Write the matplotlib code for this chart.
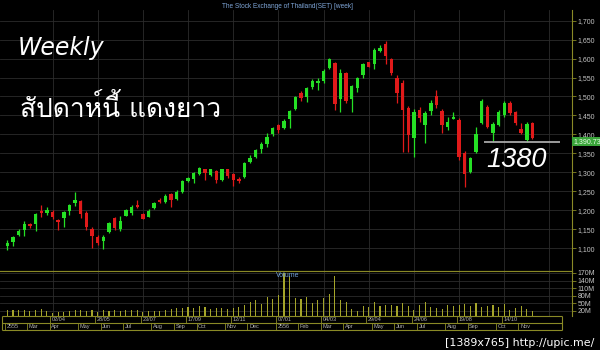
import matplotlib
matplotlib.use('Agg')
import matplotlib.pyplot as plt
import matplotlib.transforms as mtrans
from matplotlib import font_manager
from matplotlib.ft2font import FT2Font

# weekly SET index, Feb 2012 - Nov 2013
opens = [1105, 1115, 1134, 1148, 1163, 1163, 1198, 1193, 1196, 1175,
         1180, 1197, 1218, 1223, 1193, 1151, 1130, 1119, 1143, 1179,
         1150, 1185, 1192, 1214, 1189, 1183, 1205, 1228, 1221, 1242,
         1229, 1249, 1277, 1282, 1295, 1309, 1293, 1303, 1280, 1309,
         1295, 1282, 1287, 1328, 1341, 1361, 1374, 1400, 1425, 1416,
         1441, 1466, 1510, 1499, 1524, 1536, 1541, 1574, 1589, 1493,
         1563, 1493, 1522, 1557, 1590, 1587, 1621, 1638, 1598, 1550,
         1535, 1469, 1390, 1464, 1425, 1462, 1501, 1462, 1419, 1441,
         1438, 1350, 1300, 1354, 1431, 1473, 1403, 1425, 1451, 1484,
         1458, 1413, 1385, 1430]
highs = [1121, 1133, 1150, 1171, 1167, 1193, 1215, 1208, 1200, 1177,
         1197, 1217, 1249, 1227, 1198, 1156, 1135, 1135, 1170, 1183,
         1185, 1203, 1214, 1227, 1192, 1202, 1222, 1233, 1242, 1245,
         1253, 1280, 1288, 1301, 1315, 1310, 1310, 1306, 1310, 1310,
         1297, 1288, 1328, 1346, 1361, 1381, 1403, 1420, 1427, 1440,
         1464, 1501, 1514, 1526, 1545, 1550, 1572, 1601, 1592, 1572,
         1565, 1530, 1552, 1588, 1592, 1627, 1636, 1646, 1601, 1558,
         1543, 1474, 1468, 1472, 1462, 1490, 1518, 1468, 1445, 1458,
         1442, 1356, 1341, 1420, 1493, 1477, 1433, 1464, 1489, 1488,
         1462, 1430, 1434, 1432]
lows = [1095, 1105, 1131, 1133, 1152, 1146, 1181, 1188, 1178, 1148,
        1157, 1187, 1210, 1180, 1148, 1100, 1108, 1097, 1139, 1148,
        1144, 1184, 1188, 1205, 1176, 1181, 1202, 1218, 1218, 1208,
        1227, 1246, 1275, 1271, 1293, 1280, 1290, 1272, 1277, 1284,
        1264, 1271, 1284, 1324, 1339, 1350, 1367, 1396, 1403, 1413,
        1418, 1464, 1489, 1486, 1521, 1517, 1535, 1572, 1464, 1460,
        1484, 1460, 1513, 1548, 1577, 1572, 1618, 1587, 1557, 1483,
        1354, 1354, 1341, 1434, 1376, 1452, 1470, 1403, 1412, 1440,
        1332, 1262, 1297, 1350, 1427, 1416, 1381, 1421, 1447, 1452,
        1424, 1400, 1380, 1389]
closes = [1114, 1130, 1146, 1164, 1158, 1189, 1192, 1200, 1181, 1170,
          1194, 1213, 1227, 1190, 1155, 1132, 1114, 1128, 1167, 1152,
          1172, 1200, 1209, 1208, 1177, 1199, 1220, 1222, 1238, 1227,
          1247, 1277, 1286, 1299, 1311, 1297, 1308, 1281, 1308, 1290,
          1280, 1277, 1325, 1339, 1359, 1375, 1392, 1418, 1412, 1436,
          1463, 1499, 1497, 1522, 1541, 1541, 1568, 1598, 1480, 1563,
          1489, 1528, 1548, 1585, 1579, 1623, 1629, 1607, 1561, 1510,
          1464, 1398, 1460, 1444, 1456, 1482, 1477, 1425, 1433, 1445,
          1341, 1296, 1337, 1400, 1488, 1420, 1427, 1458, 1484, 1456,
          1429, 1403, 1427, 1390.73]
volumes = [22, 25, 24, 22, 20, 24, 26, 18, 12, 14,
           16, 20, 22, 24, 20, 25, 16, 22, 20, 24,
           18, 22, 25, 22, 16, 18, 18, 20, 22, 28,
           30, 32, 36, 30, 40, 34, 26, 32, 30, 28,
           30, 34, 45, 55, 62, 48, 75, 68, 82, 168,
           160, 72, 68, 75, 50, 62, 70, 88, 160, 62,
           55, 28, 20, 40, 35, 55, 38, 42, 45, 40,
           52, 38, 25, 45, 55, 35, 30, 28, 45, 40,
           42, 48, 40, 52, 35, 40, 45, 35, 48, 25,
           32, 38, 26, 18]

date_ticks = [8, 16, 24, 32, 40, 48, 56, 64, 72, 80, 88]
date_labels = ['02/04', '28/05', '23/07', '17/09', '12/11', '07/01',
               '04/03', '29/04', '24/06', '19/08', '14/10']
month_ticks = [0, 4, 8, 13, 17, 21, 26, 30, 34, 39, 43,
               48, 52, 56, 60, 65, 69, 73, 78, 82, 87, 91]
month_labels = ['2555', 'Mar', 'Apr', 'May', 'Jun', 'Jul', 'Aug', 'Sep',
                'Oct', 'Nov', 'Dec', '2556', 'Feb', 'Mar', 'Apr', 'May',
                'Jun', 'Jul', 'Aug', 'Sep', 'Oct', 'Nov']
price_ticks = list(range(1100, 1701, 50))
vol_ticks = [20, 50, 80, 110, 140, 170]
last_price = 1390.73
support = 1380

plt.rcParams['font.family'] = ['Liberation Sans', 'DejaVu Sans']


def thai_font():
    # pick any installed font that has Thai glyphs
    for f in font_manager.fontManager.ttflist:
        try:
            if 0x0E2A in FT2Font(f.fname).get_charmap():
                return f.name
        except Exception:
            pass
    return 'DejaVu Sans'


W, H = 600, 350
olive = '#8a8a26'
grid_c = '#2c2c2c'
lab_c = '#c4c4c4'
up_c, dn_c = '#25e025', '#e01a1a'
XL = (-1.3, 100.0)

fig = plt.figure(figsize=(6, 3.5), dpi=100, facecolor='black')


def box(x0, y0, x1, y1):
    a = fig.add_axes([x0 / W, 1 - y1 / H, (x1 - x0) / W, (y1 - y0) / H])
    a.set_facecolor('black')
    a.set_xlim(*XL)
    return a


# price panel
ax = box(0, 10, 572, 271)
ax.set_ylim(1039.6, 1728.2)
idx = list(range(len(closes)))
cols = [up_c if c >= o else dn_c for o, c in zip(opens, closes)]
ax.vlines(idx, lows, highs, colors=cols, lw=0.9)
bottoms = [min(o, c) for o, c in zip(opens, closes)]
heights = [max(abs(c - o), 2.5) for o, c in zip(opens, closes)]
ax.bar(idx, heights, bottom=bottoms, width=0.6, color=cols, lw=0)
ax.hlines(support, 84.4, 97.9, color='#a8a8a8', lw=1.3)

ax.yaxis.tick_right()
ax.set_yticks(price_ticks, [f'{p:,}' for p in price_ticks])
ax.set_xticks(range(8, 100, 8))
ax.tick_params(axis='x', length=0, labelbottom=False)
ax.tick_params(axis='y', colors=olive, labelcolor=lab_c, labelsize=5,
               length=3, width=0.6, pad=1)
ax.grid(True, color=grid_c, lw=0.6)
ax.set_axisbelow(True)
for s in ['top', 'left']:
    ax.spines[s].set_visible(False)
for s in ['right', 'bottom']:
    ax.spines[s].set_color(olive)
    ax.spines[s].set_linewidth(0.8)

tr = mtrans.blended_transform_factory(ax.transAxes, ax.transData)
ax.text(1.003, last_price, f'{last_price:,.2f}', transform=tr, ha='left',
        va='top', fontsize=5, color='#e8ffe8', clip_on=False,
        bbox=dict(boxstyle='square,pad=0.2', fc='#3aa53a', ec='none'))

# volume panel
vax = box(0, 271, 572, 316)
vax.set_ylim(0, 45 / 0.253)
vax.bar(idx, volumes, width=0.2, color='#a5a52a', lw=0)
vax.yaxis.tick_right()
vax.set_yticks(vol_ticks, [f'{v}M' for v in vol_ticks])
vax.set_xticks(range(8, 100, 8))
vax.tick_params(axis='x', length=0, labelbottom=False)
vax.tick_params(axis='y', colors=olive, labelcolor=lab_c, labelsize=5,
                length=3, width=0.6, pad=1)
vax.grid(True, color=grid_c, lw=0.6)
vax.set_axisbelow(True)
for s in ['bottom', 'left']:
    vax.spines[s].set_visible(False)
for s in ['right', 'top']:
    vax.spines[s].set_color(olive)
    vax.spines[s].set_linewidth(0.8)
vax.text(0.503, 0.9, 'Volume', transform=vax.transAxes, ha='center',
         va='center', fontsize=5, color='#6f9fd8')

# date strip
dax = box(0, 316, 572, 330)
dax.set_ylim(0, 2)
dax.axis('off')
x0, x1 = -0.95, 98.3
dax.hlines([0, 1, 2], x0, x1, color=olive, lw=0.8, clip_on=False)
dax.vlines([x0, x1], 0, 2, color=olive, lw=0.8, clip_on=False)
for d, lab in zip(date_ticks, date_labels):
    dax.vlines(d - 0.4, 1, 2, color=olive, lw=0.6)
    dax.text(d - 0.1, 1.5, lab, fontsize=4, color='#b0b0b0',
             ha='left', va='center')
for m, lab in zip(month_ticks, month_labels):
    dax.vlines(m - 0.5, 0, 1, color=olive, lw=0.6)
    dax.text(m - 0.2, 0.5, lab, fontsize=4, color='#b0b0b0',
             ha='left', va='center')

# overlay texts
fig.text(287 / W, 1 - 6 / H, 'The Stock Exchange of Thailand(SET) [week]',
         ha='center', va='center', fontsize=4.7, color='#7fa6d8')
fig.text(18 / W, 1 - 54.5 / H, 'Weekly', ha='left', va='baseline',
         fontsize=17, style='italic', color='white', family='DejaVu Sans')
fig.text(20 / W, 1 - 117 / H, 'สัปดาห์นี้ แดงยาว', ha='left', va='baseline',
         fontsize=19, color='white', family=[thai_font(), 'DejaVu Sans'])
fig.text(486 / W, 1 - 167 / H, '1380', ha='left', va='baseline',
         fontsize=19.5, style='italic', color='white')
fig.text(594 / W, 1 - 346 / H, '[1389x765] http://upic.me/', ha='right',
         va='baseline', fontsize=7.9, color='white', family='DejaVu Sans')

fig.savefig('out.png', dpi=100, facecolor='black')
